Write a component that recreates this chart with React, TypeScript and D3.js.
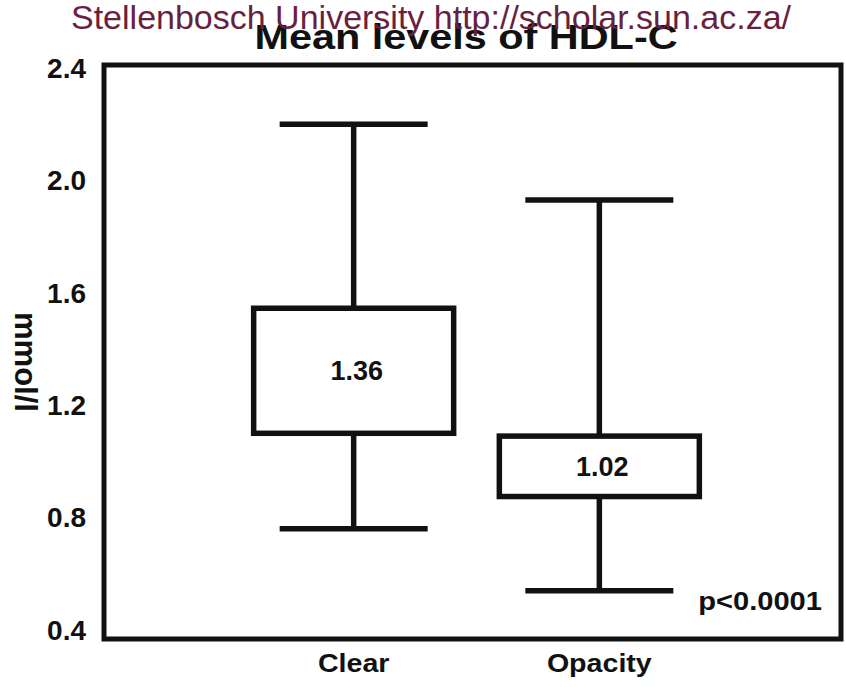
import React from "react";
import * as d3 from "d3";

const categories = ["Clear", "Opacity"];
const whiskerLow = [0.76, 0.54];
const boxLow = [1.1, 0.875];
const boxHigh = [1.545, 1.09];
const whiskerHigh = [2.2, 1.93];
const meanLabels = ["1.36", "1.02"];
const yTicks = [0.4, 0.8, 1.2, 1.6, 2.0, 2.4];

const W = 846;
const H = 687;
const frame = { left: 104, top: 65, right: 841, bottom: 639 };

function Stretch({ x, y, sx, children }: { x: number; y: number; sx: number; children: React.ReactNode }) {
  return <g transform={`translate(${x},${y}) scale(${sx},1)`}>{children}</g>;
}

export default function App() {
  const y = d3.scaleLinear().domain([0.4, 2.4]).range([630, 68]);
  const x = d3.scalePoint<string>().domain(categories).range([108, 845]).padding(1);
  const boxHalf = 100;
  const capHalf = 74;
  const font = "'Liberation Sans', Arial, sans-serif";
  const ink = "#111";
  return (
    <svg width={W} height={H} style={{ position: "absolute", left: 0, top: 0, background: "#fff" }}>
      <Stretch x={466} y={49} sx={1.15}>
        <text x={0} y={0} textAnchor="middle" fontFamily={font} fontSize={36} fontWeight="bold" fill={ink}>
          Mean levels of HDL-C
        </text>
      </Stretch>
      <text x={431} y={29} textAnchor="middle" fontFamily={font} fontSize={34} fill="#6a1f3e">
        Stellenbosch University http://scholar.sun.ac.za/
      </text>
      <rect x={frame.left} y={frame.top} width={frame.right - frame.left} height={frame.bottom - frame.top}
        fill="none" stroke={ink} strokeWidth={5} />
      {yTicks.map((t) => (
        <text key={t} x={86} y={y(t)} dy="0.35em" textAnchor="end" fontFamily={font} fontSize={28} fontWeight="bold" fill={ink}>
          {t.toFixed(1)}
        </text>
      ))}
      <g transform="translate(15,362) rotate(90)">
        <text x={0} y={0} textAnchor="middle" fontFamily={font} fontSize={31} fontWeight="bold" fill={ink}>
          mmol/l
        </text>
      </g>
      {categories.map((c, i) => {
        const cx = x(c) as number;
        const mid = (y(boxHigh[i]) + y(boxLow[i])) / 2;
        return (
          <g key={c} stroke={ink} strokeWidth={5.5} fill="none">
            <line x1={cx} x2={cx} y1={y(whiskerHigh[i])} y2={y(boxHigh[i])} />
            <line x1={cx} x2={cx} y1={y(boxLow[i])} y2={y(whiskerLow[i])} />
            <line x1={cx - capHalf} x2={cx + capHalf} y1={y(whiskerHigh[i])} y2={y(whiskerHigh[i])} />
            <line x1={cx - capHalf} x2={cx + capHalf} y1={y(whiskerLow[i])} y2={y(whiskerLow[i])} />
            <rect x={cx - boxHalf} y={y(boxHigh[i])} width={boxHalf * 2} height={y(boxLow[i]) - y(boxHigh[i])} fill="#fff" />
            <text x={cx + 3} y={mid} dy="0.36em" textAnchor="middle" stroke="none" fill={ink}
              fontFamily={font} fontSize={27} fontWeight="bold">
              {meanLabels[i]}
            </text>
            <Stretch x={cx} y={672} sx={1.1}>
              <text x={0} y={0} textAnchor="middle" stroke="none" fill={ink} fontFamily={font} fontSize={26} fontWeight="bold">
                {c}
              </text>
            </Stretch>
          </g>
        );
      })}
      <Stretch x={822} y={610} sx={1.12}>
        <text x={0} y={0} textAnchor="end" fontFamily={font} fontSize={26} fontWeight="bold" fill={ink}>
          p&lt;0.0001
        </text>
      </Stretch>
    </svg>
  );
}
